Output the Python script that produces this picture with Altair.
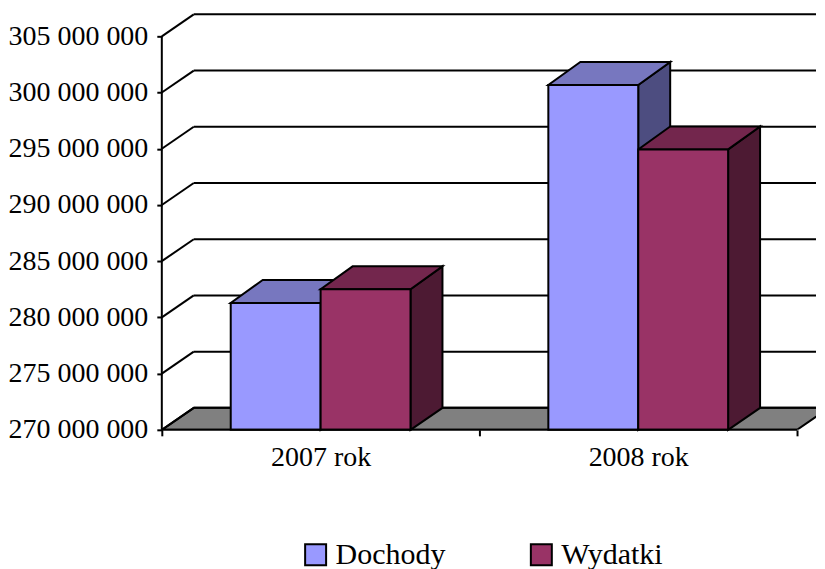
import altair as alt
import pandas as pd

# ---------------- data ----------------
CATEGORIES = ["2007 rok", "2008 rok"]
SERIES = ["Dochody", "Wydatki"]
DOCHODY = [281_280_000, 300_670_000]
WYDATKI = [282_500_000, 294_940_000]
Y_TICKS = [270_000_000, 275_000_000, 280_000_000, 285_000_000,
           290_000_000, 295_000_000, 300_000_000, 305_000_000]

# ---------------- style ----------------
FRONT = ["#9999FF", "#993366"]
TOP = ["#7777BF", "#73264D"]
SIDE = ["#4D4D80", "#4D1A33"]
FLOOR = "#808080"
FONT = "Liberation Serif"
LW = 2

W, H = 655, 417                 # plot area (svg must stay within 809 px)
AXIS_PX = 394                   # pixel length of the front value axis
CAT_PX = 318                    # pixel width of one category
DEPTH_X, DEPTH_Y = 32, 22       # oblique depth offset in pixels
BAR_PX = 90

Y_MIN, Y_TOP = Y_TICKS[0], Y_TICKS[-1]
VAL_PER_PX = (Y_TOP - Y_MIN) / AXIS_PX
Y_MAX = Y_MIN + H * VAL_PER_PX
X_MAX = W / CAT_PX
NCAT = len(CATEGORIES)
DX = DEPTH_X / CAT_PX
DY = DEPTH_Y * VAL_PER_PX
DY_BAR = 23 * VAL_PER_PX
BW = BAR_PX / CAT_PX

xscale = alt.Scale(domain=[0, X_MAX], nice=False, zero=False)
yscale = alt.Scale(domain=[Y_MIN, Y_MAX], nice=False, zero=False)

label_expr = " : ".join(
    f"datum.value == {i + 0.5} ? '{c}'" for i, c in enumerate(CATEGORIES)
) + " : ''"
xaxis = alt.Axis(
    values=sorted({i * 0.5 for i in range(2 * NCAT + 1)}),
    domain=False, grid=False, title=None,
    ticks=True, tickSize=6, tickWidth=LW, tickColor="black",
    tickOpacity={"condition": {"test": "datum.value % 1 === 0", "value": 1}, "value": 0},
    labelExpr=label_expr, labelFont=FONT, labelFontSize=28, labelColor="black",
    labelPadding=8, labelFlush=False, labelOverlap=False,
)
yaxis = alt.Axis(
    values=Y_TICKS, domain=False, grid=False, title=None,
    tickSize=5, tickWidth=LW, tickColor="black",
    labelExpr="format(datum.value / 1000000, 'd') + ' 000 000'",
    labelFont=FONT, labelFontSize=28, labelColor="black", labelPadding=9,
)


def X(f):
    return alt.X(f, type="quantitative", scale=xscale, axis=xaxis)


def Y(f):
    return alt.Y(f, type="quantitative", scale=yscale, axis=yaxis)


# ---------------- geometry tables built from the data ----------------
fronts, tops, sides = [], [], []
for ci, cat in enumerate(CATEGORIES):
    center = ci + 0.5
    for si, (s, vals) in enumerate(zip(SERIES, [DOCHODY, WYDATKI])):
        x0 = center + (si - 1) * BW
        x1 = x0 + BW
        v = vals[ci]
        bid = f"{cat}-{s}"
        fronts.append(dict(series=s, xa=x0, xb=x1, ya=Y_MIN, yb=v))
        tops.append(dict(id=bid, fill=TOP[si], y=v, xa=x0, xb=x1))
        tops.append(dict(id=bid, fill=TOP[si], y=v + DY_BAR, xa=x0 + DX, xb=x1 + DX))
        sides.append(dict(id=bid, fill=SIDE[si], x=x1, ya=Y_MIN, yb=v))
        sides.append(dict(id=bid, fill=SIDE[si], x=x1 + DX, ya=Y_MIN + DY, yb=v + DY_BAR))

fronts_df = pd.DataFrame(fronts)
tops_df = pd.DataFrame(tops)
sides_df = pd.DataFrame(sides)

floor_df = pd.DataFrame([
    dict(y=Y_MIN, xa=0, xb=NCAT),
    dict(y=Y_MIN + DY, xa=DX, xb=NCAT + DX),
])
grid_df = pd.DataFrame([
    dict(xa=0, xb=DX, ya=t, yb=t + DY, xe=X_MAX) for t in Y_TICKS
])
yline_df = pd.DataFrame([dict(x=0, ya=Y_MIN, yb=Y_TOP)])
xline_df = pd.DataFrame([dict(y=Y_MIN, xa=0, xb=NCAT)])

# ---------------- layers ----------------
floor = alt.Chart(floor_df).mark_area(
    orient="horizontal", fill=FLOOR, stroke="black", strokeWidth=LW, clip=True
).encode(y=Y("y"), x=X("xa"), x2="xb")

back_grid = alt.Chart(grid_df).mark_rule(color="black", strokeWidth=LW).encode(
    x=X("xb"), x2="xe", y=Y("yb")
)
connectors = alt.Chart(grid_df).mark_rule(color="black", strokeWidth=LW).encode(
    x=X("xa"), x2="xb", y=Y("ya"), y2="yb"
)
yline = alt.Chart(yline_df).mark_rule(color="black", strokeWidth=LW).encode(
    x=X("x"), y=Y("ya"), y2="yb"
)
xline = alt.Chart(xline_df).mark_rule(color="black", strokeWidth=LW).encode(
    y=Y("y"), x=X("xa"), x2="xb"
)

side_faces = alt.Chart(sides_df).mark_area(
    orient="vertical", stroke="black", strokeWidth=LW
).encode(
    x=X("x"), y=Y("ya"), y2="yb",
    fill=alt.Fill("fill:N", scale=None), detail="id:N",
)
top_faces = alt.Chart(tops_df).mark_area(
    orient="horizontal", stroke="black", strokeWidth=LW
).encode(
    y=Y("y"), x=X("xa"), x2="xb",
    fill=alt.Fill("fill:N", scale=None), detail="id:N",
)
front_faces = alt.Chart(fronts_df).mark_rect(stroke="black", strokeWidth=LW).encode(
    x=X("xa"), x2="xb", y=Y("ya"), y2="yb",
    color=alt.Color(
        "series:N",
        scale=alt.Scale(domain=SERIES, range=FRONT),
        legend=alt.Legend(
            orient="none", legendX=139, legendY=527, direction="horizontal",
            columns=2, title=None, padding=0,
            symbolType="square", symbolSize=441, symbolStrokeColor="black",
            symbolStrokeWidth=LW, symbolOpacity=1,
            labelFont=FONT, labelFontSize=30, labelColor="black",
            labelOffset=5, columnPadding=81,
        ),
    ),
)

chart = alt.layer(
    floor, back_grid, connectors, yline, side_faces, top_faces, front_faces, xline
).properties(
    width=W, height=H,
    padding={"left": 0, "top": 4, "right": 0, "bottom": 0},
    background="white",
).configure_view(stroke=None)

chart.save("out.html", embed_options={"renderer": "svg", "actions": False})
